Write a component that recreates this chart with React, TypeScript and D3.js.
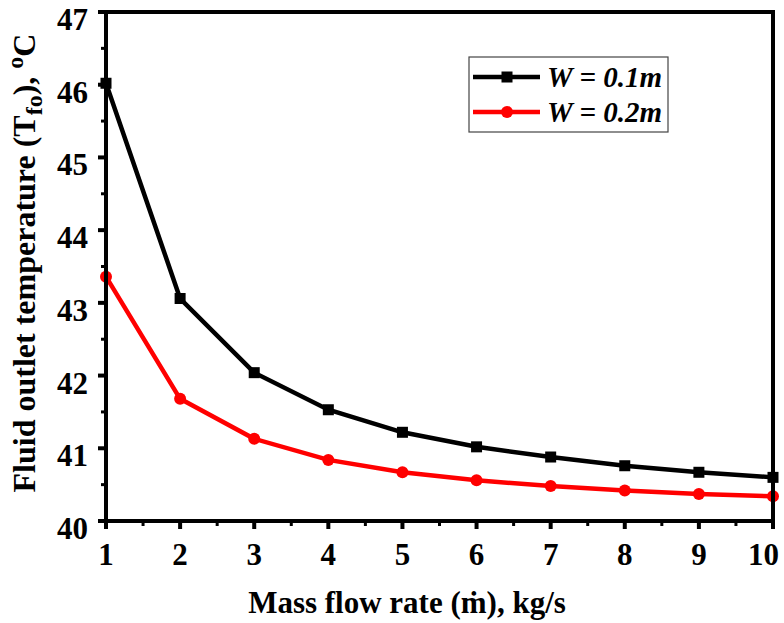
import React from "react";
import * as d3 from "d3";

const massFlow = [1, 2, 3, 4, 5, 6, 7, 8, 9, 10];
const tempW01 = [46.02, 43.06, 42.04, 41.53, 41.22, 41.02, 40.88, 40.76, 40.67, 40.6];
const tempW02 = [43.36, 41.68, 41.13, 40.84, 40.67, 40.56, 40.48, 40.42, 40.37, 40.34];
const xTicks = [1, 2, 3, 4, 5, 6, 7, 8, 9, 10];
const yTicks = [40, 41, 42, 43, 44, 45, 46, 47];
const legendLabels = ["W = 0.1m", "W = 0.2m"];

const W = 784, H = 623;
const left = 106, right = 773, top = 12, bottom = 521;
const font = "Liberation Serif";

export default function App() {
  const x = d3.scaleLinear().domain([1, 10]).range([left, right]);
  const y = d3.scaleLinear().domain([40, 47]).range([bottom, top]);
  const line = d3.line<number>().x((_, i) => x(massFlow[i])).y((d) => y(d));
  const minorX = d3.range(1.5, 10, 1);
  const minorY = d3.range(40.5, 47, 1);
  return (
    <svg width={W} height={H} style={{ position: "absolute", left: 0, top: 0 }}>
      <rect x={0} y={0} width={W} height={H} fill="white" />
      <path d={line(tempW01) || ""} fill="none" stroke="black" strokeWidth={4.5} />
      <path d={line(tempW02) || ""} fill="none" stroke="#ff0000" strokeWidth={4.5} />
      {tempW01.map((v, i) => (
        <rect key={"s" + i} x={x(massFlow[i]) - 5.5} y={y(v) - 5.5} width={11} height={11} fill="black" />
      ))}
      {tempW02.map((v, i) => (
        <circle key={"c" + i} cx={x(massFlow[i])} cy={y(v)} r={6} fill="#ff0000" />
      ))}
      <rect x={left} y={top} width={right - left} height={bottom - top} fill="none" stroke="black" strokeWidth={4} />
      {xTicks.map((t, i) => (
        <g key={"xt" + t}>
          <line x1={x(t)} x2={x(t)} y1={bottom} y2={bottom + 8} stroke="black" strokeWidth={4} />
          <text x={i === xTicks.length - 1 ? 779 : x(t)} y={565} textAnchor={i === xTicks.length - 1 ? "end" : "middle"} style={{ fontFamily: font, fontWeight: "bold", fontSize: 31 }}>{t}</text>
        </g>
      ))}
      {minorX.map((t) => (
        <line key={"mx" + t} x1={x(t)} x2={x(t)} y1={bottom} y2={bottom + 5} stroke="black" strokeWidth={3} />
      ))}
      {yTicks.map((t) => (
        <g key={"yt" + t}>
          <line x1={left - 8} x2={left} y1={y(t)} y2={y(t)} stroke="black" strokeWidth={4} />
          <text x={left - 18} y={y(t) + 18} textAnchor="end" style={{ fontFamily: font, fontWeight: "bold", fontSize: 31 }}>{t}</text>
        </g>
      ))}
      {minorY.map((t) => (
        <line key={"my" + t} x1={left - 5} x2={left} y1={y(t)} y2={y(t)} stroke="black" strokeWidth={3} />
      ))}
      <text x={407} y={613} textAnchor="middle" style={{ fontFamily: font, fontWeight: "bold", fontSize: 31 }}>
        Mass flow rate (ṁ), kg/s
      </text>
      <text transform="translate(35, 263) rotate(-90)" textAnchor="middle" style={{ fontFamily: font, fontWeight: "bold", fontSize: 32 }}>
        Fluid outlet temperature (T<tspan style={{ fontSize: 24 }} dy={7}>fo</tspan><tspan dy={-7}>), </tspan><tspan style={{ fontSize: 24 }} dy={-12}>o</tspan><tspan dy={12}>C</tspan>
      </text>
      <rect x={469} y={57} width={199} height={75} fill="white" stroke="#444" strokeWidth={1.2} />
      {legendLabels.map((lab, i) => {
        const ly = 77 + i * 35;
        const col = i === 0 ? "black" : "#ff0000";
        return (
          <g key={lab}>
            <line x1={473} x2={540} y1={ly} y2={ly} stroke={col} strokeWidth={4.5} />
            {i === 0 ? (
              <rect x={507 - 5.5} y={ly - 5.5} width={11} height={11} fill={col} />
            ) : (
              <circle cx={507} cy={ly} r={6} fill={col} />
            )}
            <text x={547} y={ly + 10} style={{ fontFamily: font, fontWeight: "bold", fontStyle: "italic", fontSize: 29 }}>{lab}</text>
          </g>
        );
      })}
    </svg>
  );
}
